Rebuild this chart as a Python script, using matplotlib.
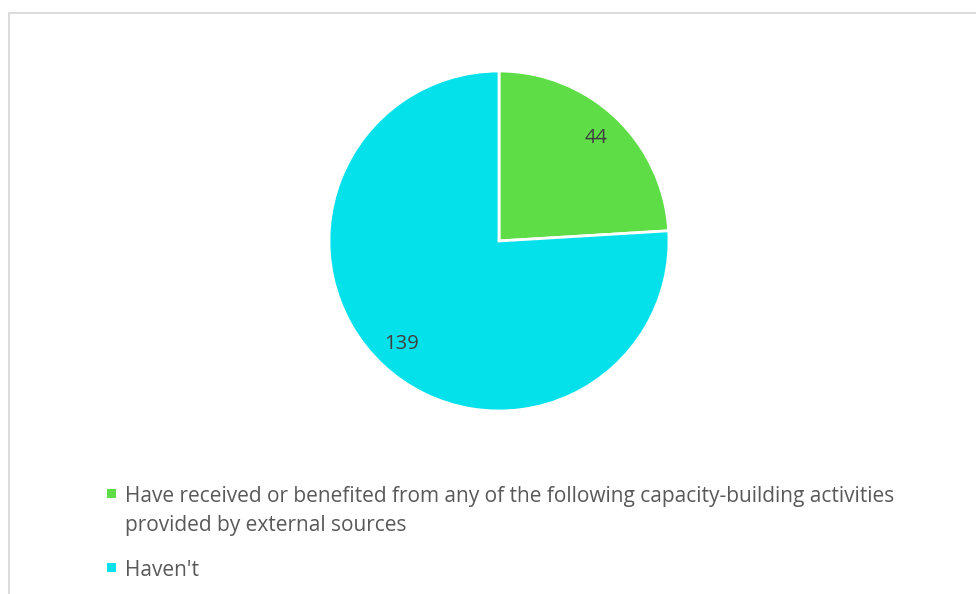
import matplotlib

matplotlib.use("Agg")

import matplotlib.pyplot as plt
from matplotlib.lines import Line2D
from matplotlib.patches import Rectangle

# Survey counts
categories = [
    "Have received or benefited from any of the following capacity-building activities\nprovided by external sources",
    "Haven't",
]
counts = [44, 139]
colors = ["#5EDD47", "#05E1EB"]

W, H = 976, 594
plt.rcParams['font.family'] = ['Open Sans', 'DejaVu Sans']

fig = plt.figure(figsize=(W / 100, H / 100), dpi=100, facecolor='white')


def fx(px):
    return px / W


def fy(py):
    return 1 - py / H


# Chart frame (top and left edges only visible)
fig.add_artist(Line2D([fx(8.5), 1.0], [fy(12.5), fy(12.5)], color='#D9D9D9', lw=1.3))
fig.add_artist(Line2D([fx(8.5), fx(8.5)], [fy(12.5), 0.0], color='#D9D9D9', lw=1.3))

# Pie axes centred at (499, 241) px with 170 px radius
cx, cy, r = 499, 241, 170
pad = 4
ax = fig.add_axes([fx(cx - r - pad), fy(cy + r + pad), (2 * r + 2 * pad) / W, (2 * r + 2 * pad) / H])
total = sum(counts)
wedges, _, autotexts = ax.pie(
    counts,
    colors=colors,
    startangle=90,
    counterclock=False,
    autopct=lambda p: f"{round(p * total / 100)}",
    pctdistance=0.835,
    wedgeprops=dict(edgecolor='white', linewidth=2),
    textprops=dict(fontsize=14.5, color='#404040'),
)
lim = (r + pad) / r
ax.set_xlim(-lim, lim)
ax.set_ylim(-lim, lim)
ax.set_aspect('equal')

# Legend drawn below the pie, one text line at a time
line_gap = 29
first_baselines = [502, 576]
for label, color, base in zip(categories, colors, first_baselines):
    fig.add_artist(Rectangle((fx(107), fy(base - 4)), 9 / W, 9 / H, facecolor=color, edgecolor='none'))
    for i, line in enumerate(label.split("\n")):
        fig.text(fx(125), fy(base + i * line_gap), line, fontsize=15, color='#595959',
                 ha='left', va='baseline')

fig.savefig("out.png", dpi=100, facecolor='white')
